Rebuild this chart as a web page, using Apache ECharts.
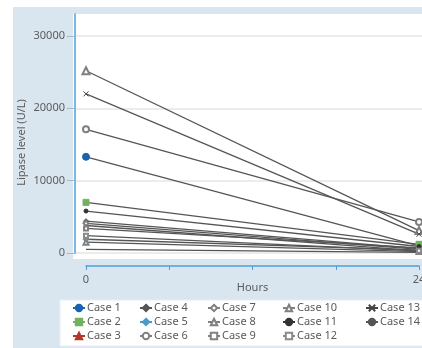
<!DOCTYPE html>
<html><head><meta charset="utf-8">
<script src="https://cdn.jsdelivr.net/npm/echarts@6/dist/echarts.min.js"></script>
<style>html,body{margin:0;padding:0;background:#fff}#c{width:422px;height:348px}</style>
</head><body><div id="c"></div>
<script>
// Data
var hours = [0, 24];
var xTicks = [0, 6, 12, 18, 24];
var yTicks = [0, 10000, 20000, 30000];
var caseNames = ['Case 1','Case 2','Case 3','Case 4','Case 5','Case 6','Case 7','Case 8','Case 9','Case 10','Case 11','Case 12','Case 13','Case 14'];
var case1 = [13300, 1000];
var case2 = [7000, 1200];
var case3 = [3800, 300];
var case4 = [4400, 600];
var case5 = [1900, 400];
var case6 = [17100, 4300];
var case7 = [4100, 500];
var case8 = [1500, 200];
var case9 = [3400, 700];
var case10 = [25200, 3100];
var case11 = [5800, 900];
var case12 = [2400, 300];
var case13 = [22000, 2600];
var case14 = [500, 100];
var caseValues = [case1,case2,case3,case4,case5,case6,case7,case8,case9,case10,case11,case12,case13,case14];

// Styles
var styles = [
  {symbol:'circle', color:'#1a64ad', size:7},
  {symbol:'rect', color:'#72b25e', size:6},
  {symbol:'triangle', color:'#b2382c', size:5},
  {symbol:'diamond', color:'#555555', size:5},
  {symbol:'diamond', color:'#4a9cc6', size:6},
  {symbol:'emptyCircle', color:'#808080', size:6},
  {symbol:'emptyDiamond', color:'#808080', size:5},
  {symbol:'emptyTriangle', color:'#808080', size:5},
  {symbol:'emptyRect', color:'#808080', size:4},
  {symbol:'emptyTriangle', color:'#808080', size:7},
  {symbol:'circle', color:'#333333', size:4},
  {symbol:'emptyRect', color:'#8a8a8a', size:4},
  {symbol:'path://M0,0L10,10M10,0L0,10', color:'#444444', size:5},
  {symbol:'none', color:'#555555', size:0}
];

var pxPerHour = 333 / 24;
var gridLeft = 75;
var x0min = -(86 - gridLeft) / pxPerHour;
var x0max = 26;
var yMax = 30000 * (253 - 14) / 217;
var axisBlue = '#4f9fd6';
var txt = '#5a5a5a';
var font = 'Noto Sans';

var series = caseNames.map(function(n, i){
  var s = styles[i];
  return {
    name: n, type: 'line', xAxisIndex: 0, yAxisIndex: 0,
    data: hours.map(function(h, j){ return [h, caseValues[i][j]]; }),
    symbol: s.symbol, symbolSize: s.size, showSymbol: true,
    lineStyle: {color: '#555555', width: 1.3},
    itemStyle: {color: s.color, borderColor: s.color, borderWidth: 1},
    emphasis: {disabled: true},
    animation: false
  };
});

var legendCols = [[0,1,2],[3,4,5],[6,7,8],[9,10,11],[12,13]];
var legendLefts = [72, 139, 207, 282, 365];
var legends = legendCols.map(function(col, k){
  return {
    orient: 'vertical', left: legendLefts[k], top: 302, padding: 0,
    itemWidth: 12, itemHeight: 8, itemGap: 2,
    textStyle: {fontFamily: font, fontSize: 11, lineHeight: 12, color: txt, padding: [0,0,0,-3]},
    data: col.map(function(i){ return {name: caseNames[i], itemStyle: {color: styles[i].color}, lineStyle: {color: styles[i].color}}; }),
    selectedMode: false
  };
});

var chart = echarts.init(document.getElementById('c'), null, {renderer: 'canvas'});
chart.setOption({
  backgroundColor: '#ffffff',
  animation: false,
  graphic: [
    {type: 'rect', z: -20, shape: {x: 13, y: 7, width: 420, height: 350}, style: {fill: '#dae6ef'}},
    {type: 'rect', z: -10, shape: {x: 73, y: 14, width: 360, height: 245}, style: {fill: '#ffffff'}},
    {type: 'rect', z: -10, shape: {x: 60, y: 300, width: 370, height: 46}, style: {fill: '#ffffff', stroke: '#e8eef3'}}
  ],
  grid: [
    {left: gridLeft, top: 14, width: (x0max - x0min) * pxPerHour, height: 239, containLabel: false, outerBoundsMode: 'none'},
    {left: 86, top: 262, width: 333, height: 4, containLabel: false, outerBoundsMode: 'none'}
  ],
  xAxis: [
    {gridIndex: 0, type: 'value', min: x0min, max: x0max, show: false},
    {gridIndex: 1, type: 'value', position: 'bottom', min: 0, max: 24, interval: 6,
     axisLine: {show: true, onZero: false, lineStyle: {color: axisBlue, width: 1.5}},
     axisTick: {show: true, inside: false, length: 4, lineStyle: {color: axisBlue}},
     axisLabel: {show: true, margin: 8, color: txt, fontFamily: font, fontSize: 11,
       formatter: function(v){ return xTicks.indexOf(v) === 0 || xTicks.indexOf(v) === xTicks.length - 1 ? String(v) : ''; }},
     splitLine: {show: false},
     name: 'Hours', nameLocation: 'middle', nameGap: 16, nameMoveOverlap: false,
     nameTextStyle: {color: txt, fontFamily: font, fontSize: 11}}
  ],
  yAxis: [
    {gridIndex: 0, type: 'value', min: 0, max: yMax, interval: 10000,
     axisLine: {show: true, onZero: false, lineStyle: {color: axisBlue, width: 1.5}},
     axisTick: {show: true, length: 8, lineStyle: {color: '#9bbdd4'}},
     axisLabel: {margin: 10, color: txt, fontFamily: font, fontSize: 11, showMaxLabel: false,
       formatter: function(v){ return yTicks.indexOf(v) >= 0 ? String(v) : ''; }},
     splitLine: {show: true, showMaxLine: false, lineStyle: {color: '#e6e6e6', width: 1.5}},
     name: 'Lipase level (U/L)', nameLocation: 'middle', nameGap: 48, nameMoveOverlap: false,
     nameTextStyle: {color: txt, fontFamily: font, fontSize: 11, padding: [0, 18, 0, 0]}},
    {gridIndex: 1, type: 'value', show: false, axisLine: {show: false}, axisTick: {show: false}, axisLabel: {show: false}, splitLine: {show: false}}
  ],
  legend: legends,
  series: series
});
</script></body></html>
